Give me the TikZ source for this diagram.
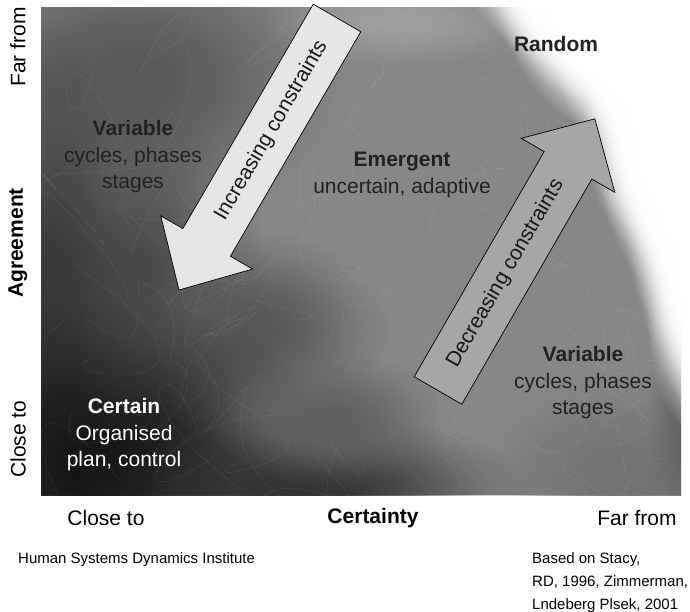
\documentclass[tikz,border=0pt]{standalone}
\usepackage{fontspec}
\setmainfont{Liberation Sans}
\usetikzlibrary{fadings}

% soft radial fadings: white = opaque, black = transparent
\pgfdeclareradialshading{softshade}{\pgfpointorigin}{color(0bp)=(white); color(5bp)=(black!5); color(10bp)=(black!22); color(15bp)=(black!50); color(20bp)=(black!80); color(25bp)=(black); color(50bp)=(black)}
\pgfdeclarefading{softdisc}{\pgfuseshading{softshade}}
\pgfdeclareradialshading{plateaushade}{\pgfpointorigin}{color(0bp)=(white); color(17bp)=(white); color(20bp)=(black!30); color(23bp)=(black!75); color(25bp)=(black); color(50bp)=(black)}
\pgfdeclarefading{platdisc}{\pgfuseshading{plateaushade}}

\definecolor{basegray}{HTML}{878787}
\definecolor{inkgray}{HTML}{222222}
\definecolor{lightarrow}{HTML}{E6E6E6}
\definecolor{midarrow}{HTML}{A6A6A6}

\tikzset{
  big/.style={font=\fontsize{21}{26.5}\selectfont, inner sep=0pt, align=center},
  quad/.style={big, text=inkgray},
  quadw/.style={big, text=white},
  axislbl/.style={big, text=black},
  small/.style={font=\fontsize{15}{23.5}\selectfont, inner sep=0pt, text=black},
  arrowbody/.style={draw=black, line width=0.7pt, line join=miter},
  arrowtxt/.style={big, text=black!90, transform shape},
  soft/.style={path fading=softdisc},
  plat/.style={path fading=platdisc},
  fiber/.style={draw=white, opacity=0.1, line width=0.4pt},
}

\begin{document}
\begin{tikzpicture}[x=1pt,y=-1pt]
\useasboundingbox (0,0) rectangle (690,611);

% ---- textured grey field ----
\begin{scope}
  \clip (41,7) rectangle (681,495);
  \fill[basegray] (41,7) rectangle (681,495);
  % darker patches
  \fill[black!65, soft] (130,80) ellipse (220 and 150);
  \fill[black!72, soft] (130,290) ellipse (140 and 190);
  \fill[black!78, soft] (50,320) ellipse (80 and 300);
  \fill[black!66, soft] (250,330) ellipse (140 and 100);
  \fill[black!92, soft] (110,470) ellipse (230 and 170);
  \fill[black!80, soft] (300,490) ellipse (230 and 80);
  \fill[black!62, soft] (330,420) ellipse (120 and 70);
  \fill[black!55, soft] (620,480) ellipse (150 and 110);
  \fill[black!62, soft] (690,420) ellipse (45 and 130);
  % lighter band along the top
  \fill[black!38, soft] (400,22) ellipse (140 and 45);
  % white top-right corner
  \foreach \cx/\cy in {607/-82, 636/-49, 657/-13, 714/44, 742/120, 745/139,
                       761/176, 784/229, 793/262, 802/295, 808/332, 720/-60}{
    \fill[white, plat] (\cx,\cy) circle (160);
  }
  % fibres
  \pgfmathsetseed{1234}
  \foreach \k in {1,...,90}{
    \pgfmathsetmacro{\ax}{60+620*rnd}
    \pgfmathsetmacro{\ay}{20+460*rnd}
    \pgfmathsetmacro{\bx}{\ax+120*rand}
    \pgfmathsetmacro{\by}{\ay+120*rand}
    \pgfmathsetmacro{\cx}{\ax+120*rand}
    \pgfmathsetmacro{\cy}{\ay+120*rand}
    \pgfmathsetmacro{\dx}{\ax+80*rand}
    \pgfmathsetmacro{\dy}{\ay+80*rand}
    \draw[fiber] (\ax,\ay) .. controls (\bx,\by) and (\cx,\cy) .. (\dx,\dy);
  }
\end{scope}

% ---- increasing constraints (points down-left) ----
\begin{scope}[shift={(179,290)}, rotate=59.85]
  \fill[lightarrow, arrowbody] (0,0) -- (55,53) -- (55,27.5) -- (314.6,27.5)
    -- (314.6,-27.5) -- (55,-27.5) -- (55,-53) -- cycle;
  \node[arrowtxt] (inc) at (184,0) {Increasing constraints};
\end{scope}

% ---- decreasing constraints (points up-right) ----
\begin{scope}[shift={(438,390.5)}, rotate=60]
  \fill[midarrow, arrowbody] (0,27.5) -- (260,27.5) -- (260,54) -- (313.7,0)
    -- (260,-54) -- (260,-27.5) -- (0,-27.5) -- cycle;
  \node[arrowtxt] (dec) at (135,0) {Decreasing constraints};
\end{scope}

% ---- region labels ----
\node[quad] (varA) at (133,157) {\textbf{Variable}\\cycles, phases\\stages};
\node[quad] (emer) at (402,175) {\textbf{Emergent}\\uncertain, adaptive};
\node[quad] (rand) at (556,44) {\textbf{Random}};
\node[quad] (varB) at (583,383) {\textbf{Variable}\\cycles, phases\\stages};
\node[quadw] (cert) at (124,435) {\textbf{Certain}\\Organised\\plan, control};

% ---- axes ----
\node[axislbl, rotate=90] (yfar) at (18,47) {Far from};
\node[axislbl, rotate=90] (yagr) at (18,243) {\textbf{Agreement}};
\node[axislbl, rotate=90] (yclose) at (18,439) {Close to};
\node[axislbl] (xclose) at (106,518) {Close to};
\node[axislbl] (xcert) at (373,518) {\textbf{Certainty}};
\node[axislbl] (xfar) at (637,518) {Far from};

% ---- sources ----
\node[small, anchor=base west] (hsd) at (18,563) {Human Systems Dynamics Institute};
\node[small, anchor=base west] (src1) at (532,563) {Based on Stacy,};
\node[small, anchor=base west] (src2) at (532,586.5) {RD, 1996, Zimmerman,};
\node[small, anchor=base west] (src3) at (532,609) {Lndeberg Plsek, 2001};
\end{tikzpicture}
\end{document}
